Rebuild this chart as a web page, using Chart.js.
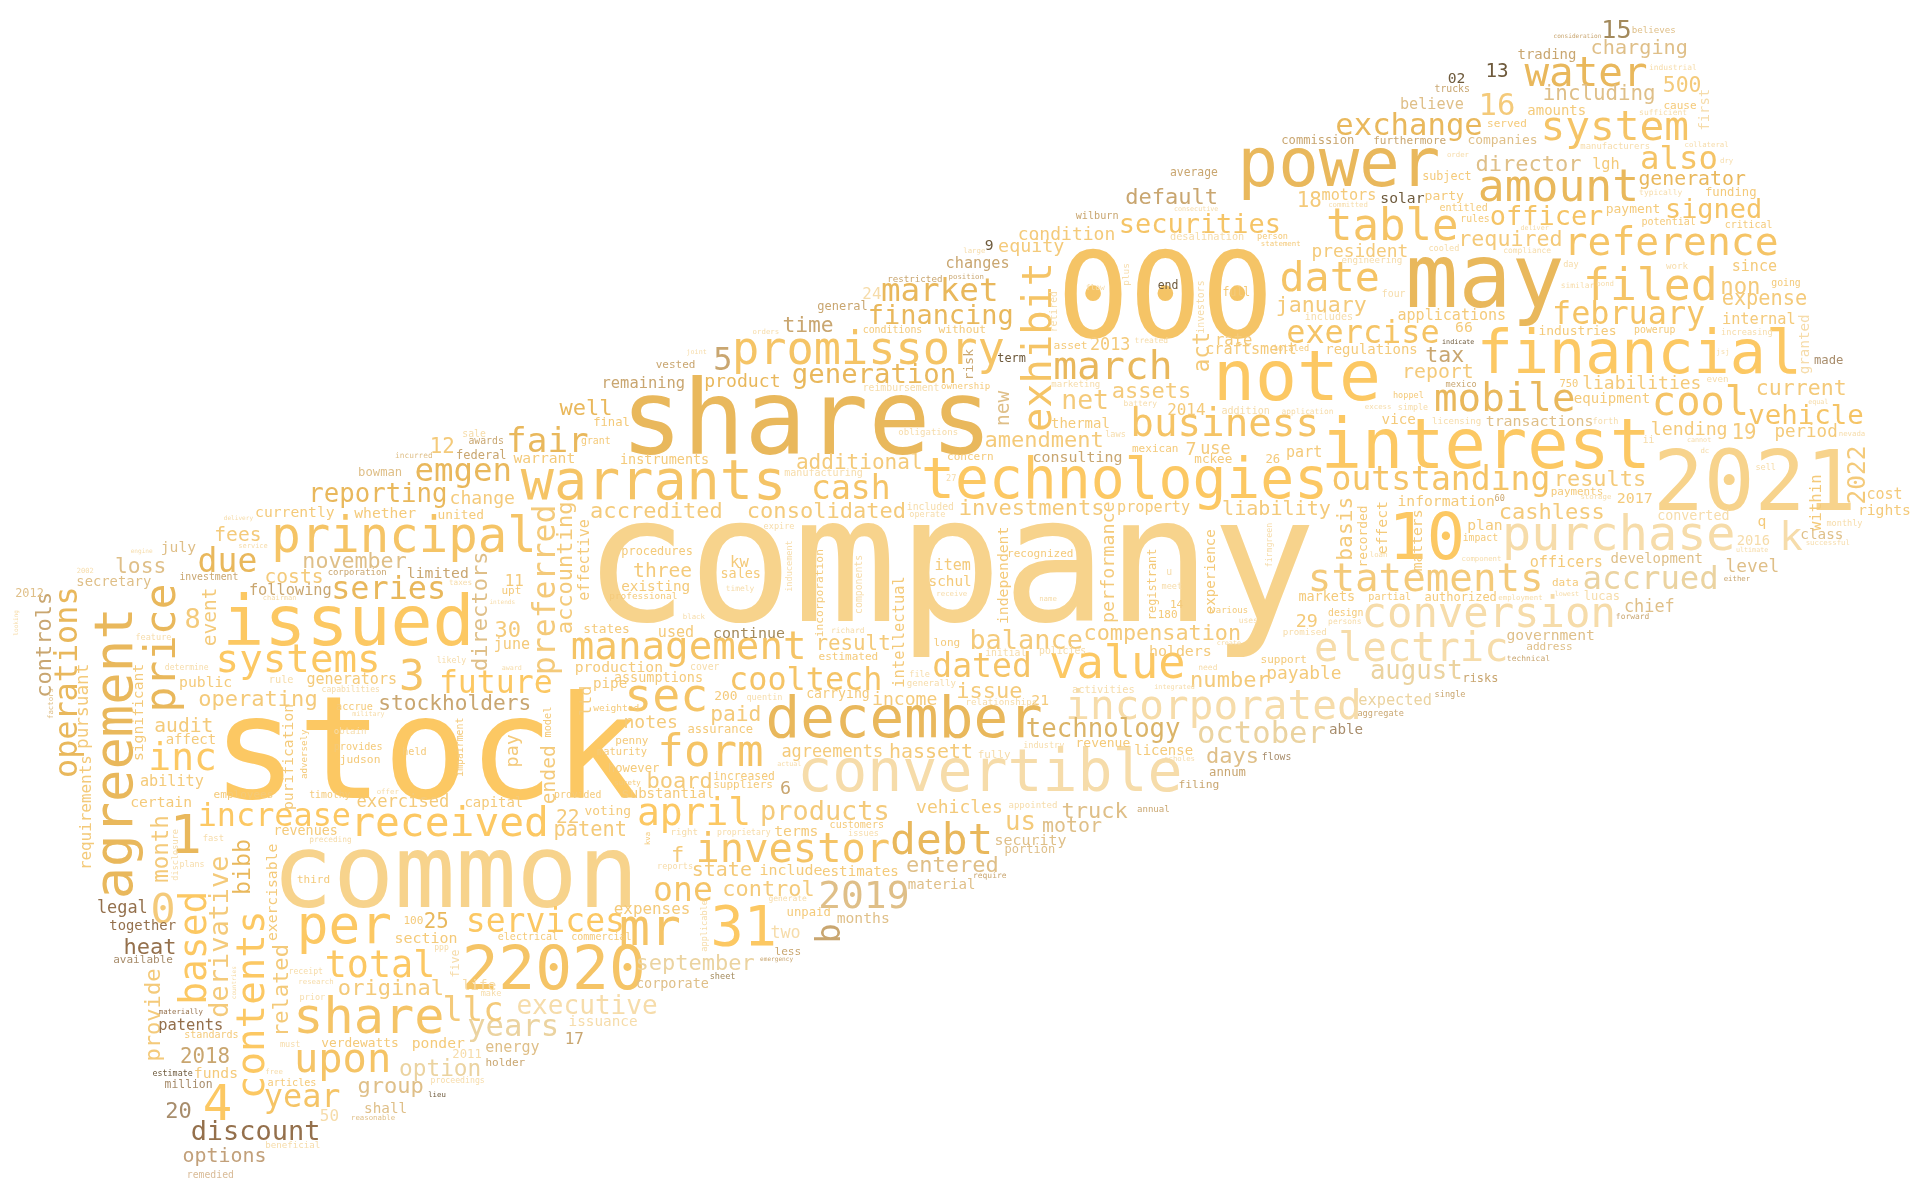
<!DOCTYPE html>
<html>
<head>
<meta charset="utf-8">
<script src="https://cdn.jsdelivr.net/npm/chart.js@4.4.1/dist/chart.umd.min.js"></script>
<style>
html,body{margin:0;padding:0;background:#ffffff;}
#wrap{width:1920px;height:1196px;position:relative;}
</style>
</head>
<body>
<div id="wrap"><canvas id="cloud"></canvas></div>
<script>
// ---- words of the cloud (same order in every array below) ----
const words = [
"company","stock","common","000","shares","may","note","power","2021","interest",
"financial","technologies","issued","warrants","principal","december","convertible","incorporated","conversion","electric",
"purchase","statements","promissory","value","form","amount","table","filed","date","system",
"water","reference","march","received","investor","debt","share","per","upon","total",
"2","2020","31","mr","4","management","sec","outstanding","business","mobile",
"cool","cash","10","dated","cooltech","april","one","2019","exercise","february",
"exchange","accrued","also","increase","services","future","years","year","llc","executive",
"october","market","financing","generation","systems","series","due","emgen","fair","reporting",
"inc","3","1","0","discount","securities","officer","signed","vehicle","products",
"balance","technology","august","agreement","operations","price","contents","based","derivative","exhibit",
"preferred","controls","directors","accounting","related","provide","month","bibb","2022","act",
"basis","effective","event","pursuant","significant","purification","exercisable","requirements","ltd","pay",
"ended","performance","experience","registrant","independent","intellectual","incorporation","within","recorded","effect",
"matters","granted","first","new","risk","b","model","impairment","adversely","inducement",
"components","investors","retired","plus","five","disclosure","applicable","kva","factors","firmgreen",
"looking","countries","well","final","12","sale","awards","grant","instruments","incurred",
"federal","warrant","bowman","change","currently","whether","united","delivery","fees","service",
"july","engine","loss","november","costs","corporation","limited","2002","investment","taxes",
"11","secretary","following","2012","chairman","upt","intends","8","30","june",
"public","rule","generators","capabilities","likely","award","determine","feature","operating","stockholders",
"pipe","accrue","military","obtain","provides","judson","held","audit","affect","ability",
"weighted","production","states","penny","maturity","however","surety","provided","employees","timothy",
"offer","certain","exercised","capital","22","voting","patent","revenues","fast","preceding",
"plans","legal","together","heat","available","patents","materially","standards","2018","estimate",
"funds","million","20","beneficial","options","remedied","third","100","25","section",
"electrical","commercial","ppp","original","receipt","research","prior","life","make","issuance",
"17","must","verdewatts","ponder","2011","energy","option","holder","free","articles",
"proceedings","group","lieu","shall","50","reasonable","net","additional","amendment","thermal",
"obligations","battery","2014","addition","laws","mexican","7","use","consulting","concern",
"mckee","26","manufacturing","27","accredited","consolidated","included","operate","investments","property",
"liability","expire","recognized","item","kw","sales","schul","timely","receive","u",
"meet","name","14","180","various","uses","procedures","three","existing","professional",
"black","used","continue","richard","result","estimated","long","compensation","initial","policies",
"holders","create","assumptions","cover","file","generally","need","number","200","quentin",
"carrying","issue","21","activities","integrated","relationships","income","paid","notes","assurance",
"agreements","hassett","fully","revenue","industry","license","days","scholes","flows","annum",
"filing","actual","board","increased","suppliers","6","substantial","average","default","consecutive",
"wilburn","condition","desalination","person","statement","9","large","equity","changes","restricted",
"position","24","general","time","conditions","without","orders","joint","5","vested",
"remaining","product","reimbursement","ownership","term","asset","2013","treated","marketing","assets",
"end","flow","full","rate","craftsment","consideration","15","believes","trading","charging",
"industrial","13","02","trucks","500","including","16","believe","amounts","cause",
"sufficient","served","commission","furthermore","companies","manufacturers","collateral","order","dry","director",
"lgh","subject","generator","18","motors","solar","party","committed","typically","funding",
"entitled","payment","rules","deliver","potential","critical","required","president","cooled","compliance",
"engineering","day","work","since","similar","bond","non","going","four","expense",
"january","includes","applications","internal","66","industries","powerup","increasing","indicate","totaled",
"regulations","tax","jsj","made","report","mexico","750","liabilities","even","current",
"hoppel","equipment","equal","application","excess","simple","vice","licensing","transactions","forth",
"lending","19","period","nevada","ii","cannot","dc","part","sell","results",
"payments","storage","2017","cost","rights","information","60","cashless","converted","monthly",
"plan","q","k","class","2016","successful","ultimate","impact","loan","component",
"officers","development","level","either","data","lowest","lucas","employment","markets","partial",
"authorized","chief","forward","29","design","persons","promised","government","address","support",
"technical","payable","risks","expected","single","aggregate","able","vehicles","appointed","truck",
"annual","us","motor","f","right","proprietary","terms","customers","issues","security",
"portion","reports","state","include","estimates","entered","require","material","control","generate",
"expenses","unpaid","months","two","less","emergency","september","sheet","corporate"
];

// ---- word weights (frequency rank -> font size, in chart units) ----
const weights = [
142,116,83,98,84,72,57,55,69,56,
49,46,57,45,40,47,47.5,33.5,34.5,33,
39.6,32,37,37,36,36.5,36,36.5,34,33.6,
33.4,32.4,32.4,33.7,33,35,41,43,33,30,
50,50,45,42,40,32,38,27,32,32,
33,27,52,27,26,31,27,31,26,26,
25,26.4,26.4,26,27,25.7,25,26,27.6,21.3,
25,26.6,22,22.3,32,26,27,26.5,28,21,
31,35,44,34,22,22,22,22,22.4,22,
22,21,21,44,26,35,32,31,22,33,
25.7,18,18,18,18,18,18.3,19,20,18.4,
17.4,12.3,16,14.5,12,12,12,13,13.6,15,
16,15,11.5,9.7,12,12.6,9.2,12.8,10.5,12,
12,11.6,11.3,16,10.6,27,8.4,8,7.5,7,
8,8,8,7.7,9.5,7,7,6,6,6.7,
5,5,18,10,17,8,8,8,11,6.4,
9.8,12,10,14.8,12,12,10.5,5,16,5.7,
12,5,17.4,17.7,16,7.3,12,5.8,8,6.3,
13,11.3,12.5,9.7,5.7,9,5,22,18,12.3,
12,8.4,12.3,6.6,6.7,5.5,6.6,7,18,17.3,
11.6,8.3,5.5,7.4,8.3,9.2,8.3,16,11.4,12.4,
7.8,12,10.5,9,8.5,10,6,8,9,8,
6,12,14,11.4,16,10.5,16.6,10.9,7.2,6.4,
6.8,13.8,11.3,18,9,12.6,6,8.2,17,6.8,
12,9.3,18,7.5,16.3,8,9,9,17,12.2,
8.2,8.2,6.6,18,6.7,6,7,11.6,7,11.7,
13,7,10.5,12,10,12.3,18.6,9,6,8.3,
6.7,18,6,11.7,13,6,21.6,17.2,18,11.4,
7.4,6.5,13,8.2,7,9,15,13.7,12.2,9,
10.3,10,8.2,7,18,18,8,7,18,12.4,
16.4,7,9,12.3,12.7,11,11.7,6.5,6,8,
7,6,9,9,7.3,6.5,9.7,16,11.7,7.7,
6,12.3,12.2,6.5,17,9,9,17.8,8,8,
12.2,5.5,11,8,7,7.4,6.5,18,10.5,7,
10.8,18,12,8.5,5.5,7.5,14.8,17.4,14.8,9.9,
13.8,16.3,8.9,10.6,7,11.4,18,6,8,10,
9.2,5.5,18,9.3,9,15,11.5,9.3,18,5.5,
8.3,14.7,8.4,7,6,12,6,15,12.4,7.5,
6,13,9.8,17.4,8.1,9.2,6,5.5,26,9,
12.6,14.8,8,7.4,9.7,9.2,13.7,6.5,7.4,18,
9.4,6.5,9.4,12.7,12.4,5,20.5,7.5,11.4,16.5,
6.5,15.7,12,8,17.5,17,25,12.4,11.4,9,
6.5,9,9.9,9,10.6,7.3,6,6,6,18,
12.5,9.6,16.2,17,12.4,12,10.7,6,6.5,10,
8.2,10.6,8,5.5,8.2,8.1,17.7,14.6,7,6.5,
7.5,7,7.5,12.3,6.5,6,18.2,8,8,16.6,
17.6,8.2,12.3,12.5,12,10.6,8,7,5.5,7,
11.4,17.6,6,10,16.2,7,8.5,14.7,7.5,17.6,
7,11.5,5.5,6.4,6,6.8,11.6,7.4,12.2,7,
14.9,17,14.3,6,8,5.5,6,12.3,7,17.9,
8.9,6,12.2,12.3,12,12,7,18,10.9,7,
12,12,32,11.7,11.3,6,5.5,8,6,6,
12.4,11.4,14.6,6,9,5.5,9.8,6,11,8.3,
9.8,13.8,6.5,15,8,6.5,7.5,12,9,9,
6.5,14.6,9.7,12.5,7,7,11.6,14.7,7.4,18,
7.4,21,16.3,18,7.5,6.6,12,8.2,7,12.2,
9.8,7,16.3,12.2,11.6,18,6.5,11.5,17.9,6.5,
13,10,12,13.7,9.1,5,18,7,11
];

// ---- anchor of each word in chart units (x, y) ----
const anchors = [
[485,507],[180,652],[227,741],[869,275],[512,371],[1152,251],[994,327],[1014,152],[1354,417],[1082,382],
[1209,305],[755,407],[185,527],[428,408],[224,451],[628,602],[654,646],[872,587],[1114,512],[1075,540],
[1229,449],[1070,483],[600,297],[859,554],[539,626],[1209,164],[1085,196],[1295,245],[1047,238],[1260,114],
[1247,70],[1279,208],[862,310],[288,683],[570,704],[729,698],[242,844],[245,770],[242,876],[267,798],
[380,808],[410,808],[583,772],[508,772],[168,915],[468,538],[512,581],[1089,400],[925,356],[1173,336],
[1351,339],[664,408],[1137,457],[763,553],[597,564],[522,674],[535,736],[670,742],[1052,280],[1269,265],
[1092,110],[1294,481],[1341,138],[163,675],[382,761],[360,566],[383,846],[217,904],[363,834],[423,828],
[979,607],[721,246],[710,265],[648,313],[178,549],[272,489],[163,467],[340,393],[415,369],[253,410],
[123,629],[328,564],[141,697],[125,754],[157,931],[915,190],[1218,184],[1361,178],[1429,346],[622,670],
[793,530],[839,602],[1120,555],[108,732],[63,634],[143,580],[216,896],[168,819],[186,830],[858,351],
[453,550],[42,569],[398,547],[467,517],[235,846],[131,866],[137,720],[204,730],[1523,411],[987,303],
[1104,457],[481,490],[176,527],[72,611],[117,621],[239,661],[226,768],[74,710],[483,584],[423,626],
[453,656],[910,508],[992,501],[944,506],[823,509],[738,561],[672,520],[1487,433],[1116,463],[1133,452],
[1161,466],[1477,305],[1396,106],[824,347],[795,310],[686,769],[450,602],[378,634],[251,636],[647,483],
[704,501],[983,272],[863,271],[922,233],[375,798],[145,719],[577,777],[531,690],[43,587],[1039,463],
[15,519],[193,816],[458,339],[485,348],[352,370],[378,357],[383,363],[475,363],[507,379],[323,374],
[373,375],[420,378],[293,389],[368,412],[209,422],[290,423],[358,424],[183,425],[176,442],[195,448],
[132,451],[107,452],[95,468],[248,464],[217,476],[268,470],[333,472],[63,468],[147,474],[367,478],
[413,479],[63,479],[204,486],[13,488],[215,490],[410,485],[400,493],[152,513],[405,520],[404,530],
[147,561],[220,558],[251,559],[263,565],[357,542],[410,547],[135,547],[111,523],[163,577],[310,580],
[485,562],[275,580],[288,585],[273,600],[273,613],[278,623],[329,617],[127,598],[136,608],[115,642],
[485,581],[470,549],[477,517],[503,608],[488,617],[497,631],[502,641],[453,652],[175,652],[253,652],
[308,649],[107,659],[292,659],[380,659],[455,672],[478,666],[453,683],[224,682],[166,687],[253,688],
[147,708],[80,746],[90,760],[102,779],[93,787],[130,841],[130,828],[151,848],[148,868],[125,879],
[159,881],[135,889],[136,913],[217,938],[150,949],[153,962],[243,721],[330,755],[347,758],[323,770],
[407,768],[467,768],[355,776],[277,813],[236,796],[244,804],[245,817],[378,809],[393,814],[465,838],
[462,853],[229,855],[263,855],[337,856],[370,864],[397,859],[327,879],[397,871],[217,877],[219,887],
[352,885],[293,893],[350,896],[298,909],[262,916],[287,915],[868,334],[651,383],[805,365],[859,350],
[734,355],[918,332],[954,339],[998,338],[903,357],[925,369],[969,372],[981,371],[844,377],[774,376],
[976,378],[1034,378],[641,389],[773,393],[483,423],[611,423],[741,417],[743,422],[784,421],[913,418],
[999,421],[624,432],[823,455],[764,466],[597,463],[589,472],[759,479],[593,483],[765,487],[953,470],
[949,481],[849,491],[956,497],[946,505],[989,501],[1012,509],[508,453],[518,471],[508,483],[498,489],
[558,506],[538,520],[583,521],[679,517],[667,531],[669,539],[763,528],[886,523],[805,536],[849,534],
[939,536],[994,527],[502,557],[564,547],[743,553],[741,560],[979,547],[973,561],[584,572],[610,572],
[659,570],[782,570],[843,576],[876,566],[943,563],[789,576],[713,576],[581,589],[510,595],[562,599],
[639,618],[727,619],[799,619],[879,610],[836,611],[927,617],[986,623],[951,622],[1031,621],[988,634],
[963,644],[635,626],[529,644],[583,637],[583,644],[638,649],[508,652],[956,144],[920,167],[959,172],
[879,179],[832,196],[956,196],[1027,195],[1030,201],[805,204],[787,207],[816,206],[773,219],[725,230],
[775,228],[705,244],[668,253],[640,271],[705,272],[767,272],[615,273],[561,289],[584,302],[536,301],
[492,317],[576,316],[705,319],[769,318],[815,296],[861,285],[891,286],[927,280],[859,316],[909,325],
[946,236],[887,237],[999,242],[993,282],[985,289],[1269,31],[1309,31],[1333,27],[1240,48],[1300,44],
[1347,57],[1214,63],[1183,68],[1172,75],[1359,75],[1261,82],[1209,94],[1144,89],[1248,94],[1359,89],
[1339,94],[1215,104],[1047,118],[1122,118],[1199,118],[1291,122],[1376,120],[1182,128],[1405,133],[1206,140],
[1301,138],[1162,147],[1339,151],[1060,169],[1080,163],[1128,166],[1164,163],[1085,169],[1339,159],[1393,160],
[1176,172],[1312,174],[1193,181],[1242,188],[1341,184],[1409,186],[1192,201],[1072,210],[1167,205],[1228,207],
[1096,215],[1277,218],[1361,220],[1415,221],[1275,235],[1304,234],[1406,240],[1447,234],[1129,243],[1407,249],
[1043,255],[1066,261],[1142,261],[1407,265],[1189,271],[1257,274],[1335,272],[1406,274],[1178,281],[1040,287],
[1083,289],[1165,296],[1402,289],[1482,297],[1146,309],[1181,316],[1274,316],[1293,318],[1394,312],[1435,323],
[1138,325],[1286,329],[1477,330],[1047,338],[1115,334],[1142,335],[1129,346],[1170,346],[1214,348],[1301,346],
[1349,355],[1415,359],[1450,357],[1502,356],[1342,362],[1378,361],[1389,370],[1051,373],[1434,384],[1270,397],
[1267,404],[1291,408],[1321,411],[1525,408],[1518,421],[1142,413],[1221,409],[1225,424],[1354,425],[1492,430],
[1199,433],[1436,430],[1455,449],[1471,440],[1419,445],[1475,445],[1418,451],[1195,442],[1119,455],[1194,458],
[1250,463],[1316,460],[1410,467],[1408,475],[1268,479],[1270,487],[1294,490],[1224,490],[1061,491],[1118,490],
[1164,491],[1327,500],[1320,506],[1059,512],[1085,503],[1085,510],[1048,519],[1231,523],[1247,531],[1030,542],
[1231,540],[1035,555],[1195,557],[1110,576],[1172,569],[1109,585],[1086,600],[749,664],[824,660],[868,668],
[929,663],[822,678],[852,680],[549,704],[548,682],[586,682],[633,683],[678,676],[693,683],[813,690],
[821,697],[537,710],[566,716],[621,715],[672,716],[741,712],[795,717],[742,726],[591,732],[628,736],
[502,747],[643,748],[684,754],[630,766],[633,780],[621,785],[520,792],[580,800],[520,807]
];

// ---- words set vertically (read bottom to top) ----
const uprightWords = [
"agreement","operations","price","contents","based","derivative","exhibit","preferred","controls","directors",
"accounting","related","provide","month","bibb","2022","act","basis","effective","event","pursuant","significant",
"purification","exercisable","requirements","ltd","pay","ended","performance","experience","registrant","independent",
"intellectual","incorporation","within","recorded","effect","matters","granted","first","new","risk","b","model",
"impairment","adversely","inducement","components","investors","retired","plus","five","disclosure","applicable",
"kva","factors","firmgreen","looking","countries"
];

// ---- colour groups ----
const tonePalette = {
  light:'#f7d38c', g1:'#fcc863', g2:'#f5c466', g3:'#e9b85c', g4:'#f4ca7a', g5:'#f6dcaa',
  pale:'#ebd3a0', t1:'#dfbf88', t2:'#c9a670', tech:'#dbb468',
  b1:'#94704c', b2:'#6e5a3c', b3:'#a88d6c', b4:'#c2a07a', b5:'#d9bb97', b6:'#a38a5c'
};
const lightWords = ["company","2021","common"];
const g1Words = ["stock","note","interest","financial","technologies","issued","value","received","per","total","31","4","increase","services","future","systems","inc","10","april","contents","based"];
const g2Words = ["000","warrants","principal","promissory","form","table","filed","date","system","reference","investor","share","upon","2","2020","mr","management","sec","outstanding","business","cool","cash","dated","cooltech","one","exercise","february","also","year","securities","officer","signed","vehicle","exhibit","3"];
const g3Words = ["shares","may","power","december","amount","water","march","debt","exchange","market","financing","generation","series","due","emgen","fair","reporting","1","agreement","operations","price","bibb","well","25","product","generator","mobile"];
const paleWords = ["accrued","years","october","august","option","expected","september"];
const t1Words = ["2019","directors","new","incurred","bowman","july","loss","november","secretary","2012","factors","energy","group","shall","reasonable","days","truck","motor","security","portion","entered","material","months","corporate","believes","charging","including","believe","companies","director","transactions","development","level","class","chief","government","address"];
const t2Words = ["controls","risk","b","awards","federal","corporation","limited","investment","following","stockholders","2018","17","holder","consulting","annum","filing","6","average","default","wilburn","changes","restricted","position","general","time","5","vested","remaining","consideration","trading","trucks","commission","furthermore","tax","mexico","60","either","forward","technical","risks","single","aggregate","annual","require","less","emergency"];
const brownWords = ["discount","legal","together","heat","patents","materially"];
const darkWords = ["estimate","lieu","9","term","end","13","02","solar","indicate"];
const taupeWords = ["available","million","20","flows","made","able"];
const oliveWords = ["continue","15","sheet"];
const g5Words = ["convertible","incorporated","conversion","electric","purchase","executive",
"sale","delivery","service","engine","2002","taxes","chairman","intends","rule","capabilities","likely","award","determine","feature",
"military","obtain","offer","fast","preceding","plans","beneficial","ppp","receipt","research","prior","life","make","issuance","must",
"2011","free","proceedings","50","obligations","battery","addition","laws","manufacturing","27","included","operate","expire","timely",
"receive","u","meet","name","uses","black","richard","initial","policies","create","cover","file","generally","need","quentin",
"activities","integrated","relationships","fully","industry","scholes","actual","consecutive","desalination","large","24","orders",
"joint","reimbursement","treated","marketing","flow","industrial","sufficient","manufacturers","collateral","order","dry","committed",
"typically","deliver","cooled","compliance","engineering","day","work","similar","bond","four","includes","increasing","jsj","even",
"equal","application","excess","simple","licensing","forth","nevada","ii","cannot","dc","sell","storage","converted","monthly","k",
"2016","successful","ultimate","loan","component","lowest","lucas","employment","persons","promised","appointed","right","proprietary",
"issues","reports","generate","two","granted","first","inducement","components","investors","retired","plus","five","disclosure",
"applicable","firmgreen","looking","countries"];

const toneOf = {};
[[lightWords,'light'],[g1Words,'g1'],[g2Words,'g2'],[g3Words,'g3'],[paleWords,'pale'],[t1Words,'t1'],[t2Words,'t2'],
 [brownWords,'b1'],[darkWords,'b2'],[taupeWords,'b3'],[oliveWords,'b6'],[g5Words,'g5'],
 [["technology"],'tech'],[["options"],'b4'],[["remedied"],'b5']]
  .forEach(([list, tone]) => list.forEach(w => { toneOf[w] = tone; }));
const uprightSet = new Set(uprightWords);

const X_MAX = 1568, Y_MAX = 977;

const wordCloudPlugin = {
  id: 'wordCloudText',
  afterDatasetsDraw(chart) {
    const ctx = chart.ctx;
    const meta = chart.getDatasetMeta(0);
    const sx = chart.scales.x;
    const k = (sx.right - sx.left) / (sx.max - sx.min);
    meta.data.forEach((pt, i) => {
      const word = words[i];
      const size = weights[i] * k;
      ctx.save();
      ctx.translate(pt.x, pt.y);
      if (uprightSet.has(word)) ctx.rotate(-Math.PI / 2);
      ctx.font = size.toFixed(2) + 'px "DejaVu Sans Mono", monospace';
      ctx.fillStyle = tonePalette[toneOf[word] || 'g4'];
      ctx.textAlign = 'left';
      ctx.textBaseline = 'alphabetic';
      ctx.fillText(word, -0.06 * size, 0);
      ctx.restore();
    });
  }
};

new Chart(document.getElementById('cloud'), {
  type: 'scatter',
  data: {
    datasets: [{
      label: 'words',
      data: anchors.map(([x, y]) => ({ x, y })),
      pointRadius: 0,
      pointHoverRadius: 0,
      showLine: false
    }]
  },
  options: {
    responsive: true,
    maintainAspectRatio: false,
    animation: false,
    events: [],
    layout: { padding: 0 },
    plugins: { legend: { display: false }, tooltip: { enabled: false } },
    scales: {
      x: { type: 'linear', min: 0, max: X_MAX, display: false },
      y: { type: 'linear', min: 0, max: Y_MAX, reverse: true, display: false }
    }
  },
  plugins: [wordCloudPlugin]
});
</script>
</body>
</html>
